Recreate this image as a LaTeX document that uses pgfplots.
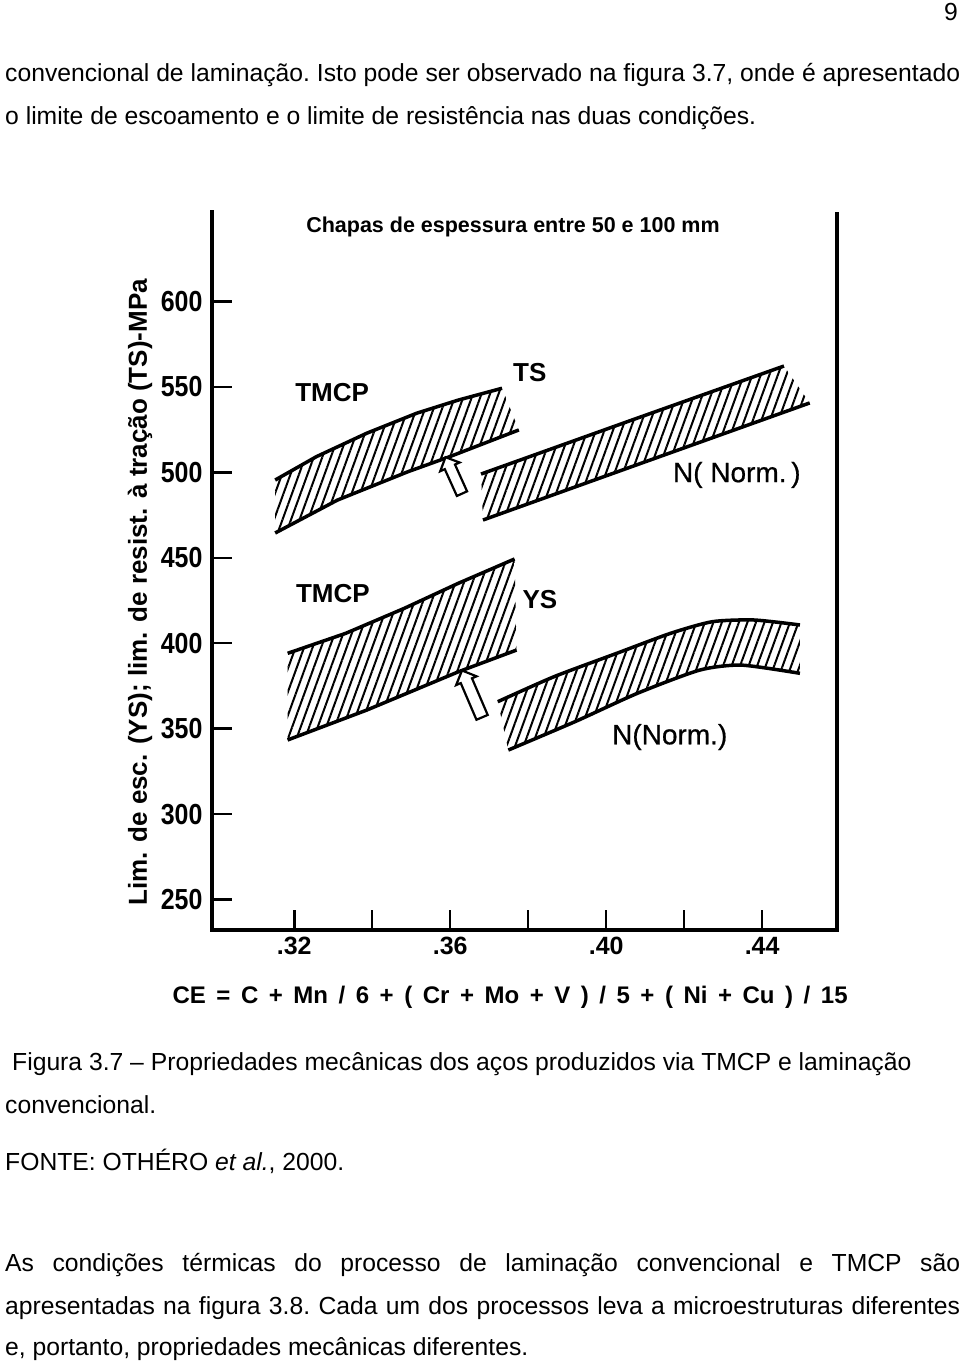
\documentclass[border=0pt]{standalone}
\usepackage{fontspec}
\setmainfont{Liberation Sans}
\newfontfamily\cfont[FakeStretch=0.86]{Liberation Sans}
\newfontfamily\mfont[FakeBold=0.6]{Liberation Sans}
\usepackage{pgfplots}
\pgfplotsset{compat=1.18}
\usetikzlibrary{patterns.meta,shapes.arrows}
\newcommand\bodyfont{\fontsize{24.7}{29}\selectfont\frenchspacing}
\newcommand\tickfont{\cfont\bfseries\fontsize{29}{29}\selectfont}
\newcommand\xtickfont{\bfseries\fontsize{25}{25}\selectfont}
\newcommand\lblfont{\bfseries\fontsize{26}{26}\selectfont}
\newcommand\nfont{\mfont\fontsize{28}{28}\selectfont}
\begin{document}
\begin{tikzpicture}
\fill[white] (0,0) rectangle (960pt,-1366pt);
\useasboundingbox (0,0) rectangle (960pt,-1366pt);
% page text
\node[anchor=base east,inner sep=0] at (958pt,-20pt) {\bodyfont 9};
\node[anchor=base west,inner sep=0] at (5pt,-81pt) {\bodyfont\makebox[955pt][s]{convencional de laminação. Isto pode ser observado na figura 3.7, onde é apresentado}};
\node[anchor=base west,inner sep=0] at (5pt,-124pt) {\bodyfont o limite de escoamento e o limite de resistência nas duas condições.};
\node[anchor=base west,inner sep=0] at (12pt,-1070pt) {\bodyfont Figura 3.7 -- Propriedades mecânicas dos aços produzidos via TMCP e laminação};
\node[anchor=base west,inner sep=0] at (5pt,-1113pt) {\bodyfont convencional.};
\node[anchor=base west,inner sep=0] at (5pt,-1170pt) {\bodyfont FONTE: OTHÉRO \textit{et al.}, 2000.};
\node[anchor=base west,inner sep=0] at (5pt,-1271pt) {\bodyfont\makebox[955pt][s]{As condições térmicas do processo de laminação convencional e TMCP são}};
\node[anchor=base west,inner sep=0] at (5pt,-1314pt) {\bodyfont\makebox[955pt][s]{apresentadas na figura 3.8. Cada um dos processos leva a microestruturas diferentes}};
\node[anchor=base west,inner sep=0] at (5pt,-1355pt) {\bodyfont e, portanto, propriedades mecânicas diferentes.};

\begin{axis}[
  at={(212pt,-930pt)}, anchor=south west,
  scale only axis, width=625pt, height=720pt,
  xmin=0.2989, xmax=0.4592, ymin=232.2, ymax=653.5,
  axis line style={draw=none},
  clip=false,
  xtick={0.32,0.34,0.36,0.38,0.40,0.42,0.44},
  xticklabels={.32,,.36,,.40,,.44},
  ytick={250,300,350,400,450,500,550,600},
  yticklabels={250,300,350,400,450,500,550,600},
  xtick pos=left, ytick pos=left,
  tick align=inside,
  major tick length=20pt,
  every tick/.style={black, line width=2.5pt},
  yticklabel style={font=\tickfont, xshift=-6pt},
  xticklabel style={font=\xtickfont, text height=18pt, text depth=0pt, yshift=-3pt},
  xlabel={\makebox[675pt][s]{CE = C + Mn / 6 + ( Cr + Mo + V ) / 5 + ( Ni + Cu ) / 15}},
  ylabel={Lim. de esc. (YS); lim. de resist. à tração (TS)-MPa},
  every axis x label/.style={at={(rel axis cs:0.477,-0.0931)}, anchor=center, font=\bfseries\fontsize{24}{24}\selectfont},
  every axis y label/.style={at={(rel axis cs:-0.1152,0.469)}, anchor=center, rotate=90, font=\bfseries\fontsize{26}{26}\selectfont},
]
% frame: left, bottom, right
\draw[line width=3.5pt] (rel axis cs:0,1) -- (rel axis cs:0,0) -- (rel axis cs:1,0) -- (rel axis cs:1,0.997);

% ---- TS TMCP band
\addplot[draw=none, pattern={Lines[angle=70,distance=8pt,line width=2pt]}] coordinates {
 (0.3151,495.5) (0.3257,509.2) (0.3386,522.9) (0.3514,534.6) (0.3621,542.3) (0.3733,549.2)
 (0.3776,524.8) (0.3599,509.2) (0.3492,500.4) (0.3311,483.8) (0.3151,464.5)} -- cycle;
\addplot[line width=3.5pt] coordinates {(0.3151,495.5) (0.3257,509.2) (0.3386,522.9) (0.3514,534.6) (0.3621,542.3) (0.3733,549.2)};
\addplot[line width=3.5pt] coordinates {(0.3151,464.5) (0.3311,483.8) (0.3492,500.4) (0.3599,509.2) (0.3776,524.8)};

% ---- TS N band
\addplot[draw=none, pattern={Lines[angle=70,distance=8pt,line width=2pt]}] coordinates {
 (0.3679,499.0) (0.4066,530.6) (0.4456,562.2)
 (0.4522,540.6) (0.4103,506.4) (0.3684,472.1)} -- cycle;
\addplot[line width=3.5pt] coordinates {(0.3679,499.0) (0.4066,530.6) (0.4456,562.2)};
\addplot[line width=3.5pt] coordinates {(0.3684,472.1) (0.4103,506.4) (0.4522,540.6)};

% ---- YS TMCP band
\addplot[draw=none, pattern={Lines[angle=70,distance=8pt,line width=2pt]}] coordinates {
 (0.3183,394.1) (0.3332,405.8) (0.3482,420.4) (0.3621,435.1) (0.3765,449.3)
 (0.3770,396.0) (0.3621,383.3) (0.3386,360.9) (0.3183,343.4)} -- cycle;
\addplot[line width=3.5pt] coordinates {(0.3183,394.1) (0.3332,405.8) (0.3482,420.4) (0.3621,435.1) (0.3765,449.3)};
\addplot[line width=3.5pt] coordinates {(0.3183,343.4) (0.3386,360.9) (0.3621,383.3) (0.3770,396.0)};

% ---- YS N band
\addplot[draw=none, pattern={Lines[angle=70,distance=8pt,line width=2pt]}] coordinates {
 (0.3722,365.8) (0.3866,380.4) (0.4027,394.1) (0.4165,405.8) (0.4272,412.6) (0.4379,413.6) (0.4497,410.7)
 (0.4497,382.4) (0.4347,387.2) (0.4240,384.3) (0.4080,370.7) (0.3920,354.1) (0.3749,337.5)} -- cycle;
\addplot[line width=3.5pt, smooth, tension=0.4] coordinates {(0.3722,365.8) (0.3866,380.4) (0.4027,394.1) (0.4165,405.8) (0.4272,412.6) (0.4379,413.6) (0.4497,410.7)};
\addplot[line width=3.5pt, smooth, tension=0.4] coordinates {(0.3749,337.5) (0.3920,354.1) (0.4080,370.7) (0.4240,384.3) (0.4347,387.2) (0.4497,382.4)};

% arrows
\node[single arrow, draw=black, line width=2.2pt, fill=white, rotate=114.3, minimum height=40pt, inner sep=4.5pt, single arrow head extend=5pt] at (axis cs:0.3612,496.7) {};
\node[single arrow, draw=black, line width=2.2pt, fill=white, rotate=113.2, minimum height=51pt, inner sep=5pt, single arrow head extend=5pt] at (axis cs:0.3659,368.7) {};

% labels
\node[font=\bfseries\fontsize{21.5}{21.5}\selectfont] at (axis cs:0.3761,643.6) {Chapas de espessura entre 50 e 100 mm};
\node[font=\lblfont] at (axis cs:0.3297,546.4) {TMCP};
\node[font=\lblfont] at (axis cs:0.3804,558.2) {TS};
\node[font=\nfont] at (axis cs:0.4335,498.5) {N( Norm.\,)};
\node[font=\lblfont] at (axis cs:0.3299,428.8) {TMCP};
\node[font=\lblfont] at (axis cs:0.3830,425.3) {YS};
\node[font=\nfont] at (axis cs:0.4163,345.1) {N(Norm.)};
\end{axis}
\end{tikzpicture}
\end{document}
